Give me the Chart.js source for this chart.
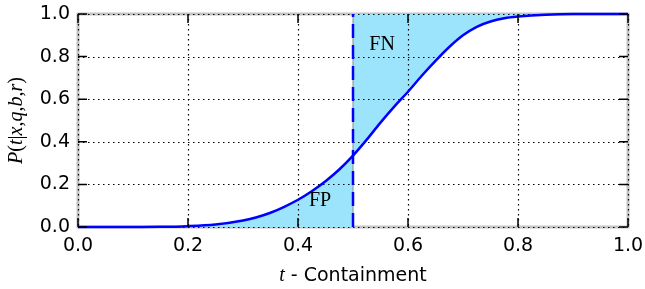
<!DOCTYPE html>
<html>
<head>
<meta charset="utf-8">
<script src="https://cdn.jsdelivr.net/npm/chart.js@4/dist/chart.umd.min.js"></script>
<style>
  html, body { margin: 0; padding: 0; background: #fff; }
  #wrap { width: 645px; height: 289px; }
</style>
</head>
<body>
<div id="wrap"><canvas id="probChart" width="645" height="289"></canvas></div>
<script>
// values
const containment = [0, 0.05, 0.1, 0.15, 0.2, 0.25, 0.3, 0.325, 0.35, 0.375, 0.4, 0.425, 0.45, 0.475, 0.5,
                     0.525, 0.55, 0.575, 0.6, 0.625, 0.65, 0.675, 0.7, 0.725, 0.75, 0.775, 0.8, 0.85, 0.9, 0.95, 1.0];
const probability = [0, 0, 0.0005, 0.001, 0.004, 0.012, 0.031, 0.046, 0.067, 0.095, 0.128, 0.168, 0.215, 0.27, 0.335,
                     0.41, 0.49, 0.565, 0.635, 0.71, 0.78, 0.845, 0.9, 0.94, 0.965, 0.98, 0.988, 0.997, 1, 1, 1];
const threshold = 0.5;
const tickValues = [0, 0.2, 0.4, 0.6, 0.8, 1.0];
const regionLabels = [
    { text: 'FP', x: 0.44, y: 0.125 },
    { text: 'FN', x: 0.553, y: 0.855 }
];

const curve = containment.map((t, i) => ({ x: t, y: probability[i] }));
const lowPart = curve.filter(p => p.x <= threshold);
const highPart = curve.filter(p => p.x >= threshold);

const fillColor = '#9ce4fc';
const sansFont = '"DejaVu Sans", sans-serif';
const serifFont = '"Liberation Serif", "DejaVu Serif", serif';

// frame, dotted grid, inward ticks and the labels
const decorPlugin = {
    id: 'decor',
    beforeDatasetsDraw(chart) {
        const { ctx, chartArea: a } = chart;
        ctx.save();
        ctx.strokeStyle = '#c4c4c4';
        ctx.lineWidth = 3;
        ctx.strokeRect(a.left, a.top, a.right - a.left, a.bottom - a.top);
        ctx.restore();
    },
    beforeDatasetDraw(chart, args) {
        // grid goes over the shaded areas but under the lines
        if (args.index !== 2) return;
        const { ctx, chartArea: a, scales } = chart;
        ctx.save();
        ctx.strokeStyle = '#000';
        ctx.lineWidth = 1.2;
        ctx.setLineDash([1.5, 3.5]);
        tickValues.forEach(v => {
            const px = Math.round(scales.x.getPixelForValue(v)) + 0.5;
            ctx.beginPath();
            ctx.moveTo(px, a.top);
            ctx.lineTo(px, a.bottom);
            ctx.stroke();
            const py = Math.round(scales.y.getPixelForValue(v)) + 0.5;
            ctx.beginPath();
            ctx.moveTo(a.left, py);
            ctx.lineTo(a.right, py);
            ctx.stroke();
        });
        ctx.restore();
    },
    afterDatasetsDraw(chart) {
        const { ctx, chartArea: a, scales } = chart;
        ctx.save();
        ctx.strokeStyle = '#000';
        ctx.lineWidth = 1.5;
        const len = 9;
        tickValues.forEach(v => {
            const px = scales.x.getPixelForValue(v);
            ctx.beginPath();
            ctx.moveTo(px, a.bottom); ctx.lineTo(px, a.bottom - len);
            ctx.moveTo(px, a.top); ctx.lineTo(px, a.top + len);
            ctx.stroke();
            const py = scales.y.getPixelForValue(v);
            ctx.beginPath();
            ctx.moveTo(a.left, py); ctx.lineTo(a.left + len, py);
            ctx.moveTo(a.right, py); ctx.lineTo(a.right - len, py);
            ctx.stroke();
        });

        // FP / FN
        ctx.fillStyle = '#000';
        ctx.font = '20px ' + serifFont;
        ctx.textAlign = 'center';
        ctx.textBaseline = 'middle';
        regionLabels.forEach(l => {
            ctx.fillText(l.text, scales.x.getPixelForValue(l.x), scales.y.getPixelForValue(l.y));
        });

        // x title: italic t, then plain text
        const italic = 'italic 20px ' + serifFont;
        const plain = '19px ' + sansFont;
        ctx.textAlign = 'left';
        ctx.textBaseline = 'alphabetic';
        ctx.font = italic;
        const w1 = ctx.measureText('t').width;
        ctx.font = plain;
        const w2 = ctx.measureText(' - Containment').width;
        let x0 = (a.left + a.right) / 2 - (w1 + w2) / 2;
        ctx.font = italic;
        ctx.fillText('t', x0, 281);
        ctx.font = plain;
        ctx.fillText(' - Containment', x0 + w1, 281);

        // y title, letters italic, punctuation upright
        const yTitle = 'P(t|x,q,b,r)';
        const parts = yTitle.split('').map(c => ({
            c: c,
            font: /[a-zA-Z]/.test(c) ? 'italic 20px ' + serifFont : '20px ' + serifFont
        }));
        let total = 0;
        parts.forEach(p => { ctx.font = p.font; p.w = ctx.measureText(p.c).width; total += p.w; });
        ctx.translate(22, (a.top + a.bottom) / 2);
        ctx.rotate(-Math.PI / 2);
        let cx = -total / 2;
        parts.forEach(p => {
            ctx.font = p.font;
            ctx.fillText(p.c, cx, 0);
            cx += p.w;
        });
        ctx.restore();
    }
};

function makeChart() {
    const ctx = document.getElementById('probChart').getContext('2d');
    const axisCommon = {
        type: 'linear',
        min: 0,
        max: 1,
        grid: { display: false, drawTicks: false },
        border: { display: false },
        ticks: {
            stepSize: 0.2,
            color: '#000',
            font: { family: sansFont, size: 19 },
            callback: v => v.toFixed(1)
        }
    };

    return new Chart(ctx, {
        type: 'line',
        data: {
            datasets: [
                {
                    // the probability curve
                    data: curve,
                    borderColor: '#0000ff',
                    borderWidth: 2.5,
                    pointRadius: 0,
                    cubicInterpolationMode: 'monotone',
                    fill: false,
                    clip: 6
                },
                {
                    // threshold line
                    data: [{ x: threshold, y: 0 }, { x: threshold, y: 1 }],
                    borderColor: '#0000ff',
                    borderWidth: 2.5,
                    borderDash: [14, 7],
                    pointRadius: 0,
                    fill: false,
                    clip: 6
                },
                {
                    // edge of the shaded areas
                    data: [{ x: threshold, y: 0 }, { x: threshold, y: 1 }],
                    borderColor: '#8c8c8c',
                    borderWidth: 1,
                    pointRadius: 0,
                    fill: false
                },
                {
                    // false negatives, above the curve
                    data: highPart,
                    borderWidth: 0,
                    backgroundColor: fillColor,
                    pointRadius: 0,
                    cubicInterpolationMode: 'monotone',
                    fill: 'end'
                },
                {
                    // false positives, below the curve
                    data: lowPart,
                    borderWidth: 0,
                    backgroundColor: fillColor,
                    pointRadius: 0,
                    cubicInterpolationMode: 'monotone',
                    fill: 'origin'
                }
            ]
        },
        options: {
            responsive: false,
            animation: false,
            layout: { padding: { top: 14, right: 17, left: 0, bottom: 0 } },
            plugins: { legend: { display: false }, tooltip: { enabled: false } },
            scales: {
                x: Object.assign({}, axisCommon, {
                    ticks: Object.assign({}, axisCommon.ticks, { padding: 8, maxRotation: 0 }),
                    afterFit: scale => {
                        scale.height = 62;
                        scale.paddingLeft = 0;
                        scale.paddingRight = 0;
                    }
                }),
                y: Object.assign({}, axisCommon, {
                    ticks: Object.assign({}, axisCommon.ticks, { padding: 8 }),
                    afterFit: scale => {
                        scale.width = 78;
                        scale.paddingTop = 0;
                        scale.paddingBottom = 0;
                    }
                })
            }
        },
        plugins: [decorPlugin]
    });
}

window.onload = function() {
    makeChart();
};
</script>
</body>
</html>
